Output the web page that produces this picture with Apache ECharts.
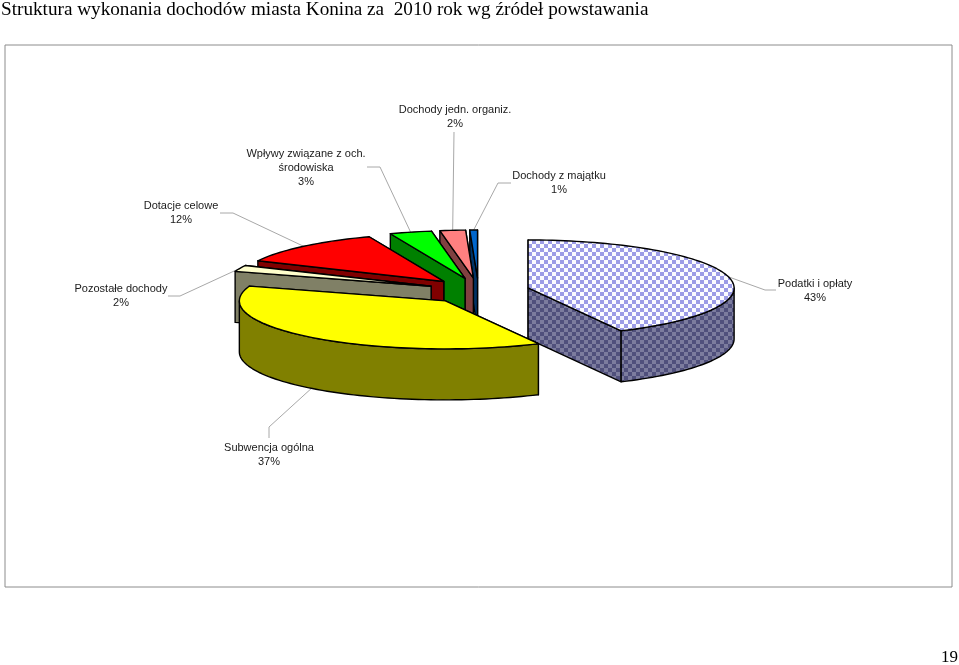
<!DOCTYPE html>
<html>
<head>
<meta charset="utf-8">
<style>html,body{margin:0;padding:0;background:#fff}#c{width:959px;height:665px}</style>
<script src="https://cdn.jsdelivr.net/npm/echarts@6/dist/echarts.min.js"></script>
</head>
<body>
<div id="c"></div>
<script>
// ---- data ----
const titleText = 'Struktura wykonania dochodów miasta Konina za  2010 rok wg źródeł powstawania';
const pageNumber = '19';
const categories = ['Podatki i opłaty', 'Subwencja ogólna', 'Pozostałe dochody', 'Dotacje celowe',
  'Wpływy związane z och.\nśrodowiska', 'Dochody jedn. organiz.', 'Dochody z majątku'];
const values = [42.5, 37.4, 2.1, 12.0, 3.3, 2.0, 0.6];

// ---- look ----
const topColors  = ['#ffffff', '#ffff00', '#ffffcc', '#ff0000', '#00ff00', '#ff8080', '#0066cc'];
const wallColors = ['#4a4a80', '#808000', '#808066', '#800000', '#008000', '#804040', '#003366'];
const drawOrder = [6, 5, 4, 3, 2, 0, 1];
const pie = {cx: 478.5, cy: 291, rx: 206, ry: 48, depth: 51, explodeX: 51, explodeY: 13};
// label centre [x, first-line y], then leader elbow points from label towards the slice
const labelCentre = [[815,284],[269,448],[121,289],[181,206],[306,154],[455,110],[559,176]];
const leaderElbows = [
  [[776,290],[765,290]], [[269,438],[269,427]], [[168,296],[180,296]], [[220,213],[233,213]],
  [[367,167],[380,167]], [[454,132]], [[511,183],[498,183]]
];
const leaderOnWall = [false, true, false, false, false, false, false];

function checker(a, b, size) {
  const cv = document.createElement('canvas');
  cv.width = cv.height = size * 2;
  const g = cv.getContext('2d');
  g.fillStyle = a; g.fillRect(0, 0, size * 2, size * 2);
  g.fillStyle = b; g.fillRect(size, 0, size, size); g.fillRect(0, size, size, size);
  return {type: 'pattern', image: cv, repeat: 'repeat'};
}
const topFill = topColors.slice();
const wallFill = wallColors.slice();
topFill[0] = checker('#fbfbff', '#9c9ce6', 4);
wallFill[0] = checker('#50507c', '#7c7c9e', 4);

const total = values.reduce((s, v) => s + v, 0);
const slices = [];
values.reduce((acc, v) => {
  const a0 = acc / total * 2 * Math.PI, a1 = (acc + v) / total * 2 * Math.PI, mid = (a0 + a1) / 2;
  slices.push({a0, a1, mid,
    ax: pie.cx + pie.explodeX * Math.sin(mid),
    ay: pie.cy - pie.explodeY * Math.cos(mid)});
  return acc + v;
}, 0);
function onRim(s, t) {
  return [s.ax + pie.rx * Math.sin(t), s.ay - pie.ry * Math.cos(t)];
}
function arcPoints(s, from, to) {
  const n = Math.max(2, Math.ceil(Math.abs(to - from) / 0.03)), out = [];
  for (let i = 0; i <= n; i++) out.push(onRim(s, from + (to - from) * i / n));
  return out;
}
const edge = {stroke: '#000', lineWidth: 1.4, lineJoin: 'round'};
function poly(points, fill) {
  return {type: 'polygon', shape: {points}, style: Object.assign({fill}, edge), silent: true};
}
function drop(p) { return [p[0], p[1] + pie.depth]; }

function renderSlice(params, api) {
  const i = drawOrder[params.dataIndex], s = slices[i], kids = [];
  const A = [s.ax, s.ay];
  const walls = [s.a0, s.a1].map(t => ({p: onRim(s, t)}));
  walls.sort((u, v) => u.p[1] - v.p[1]);
  walls.forEach(w => kids.push(poly([A, w.p, drop(w.p), drop(A)], wallFill[i])));
  // front part of the rim (clock angles 90..270 degrees)
  const f0 = Math.max(s.a0, Math.PI / 2), f1 = Math.min(s.a1, 1.5 * Math.PI);
  if (f1 > f0) {
    const rim = arcPoints(s, f0, f1);
    kids.push(poly(rim.concat(rim.map(drop).reverse()), wallFill[i]));
  }
  kids.push(poly([A].concat(arcPoints(s, s.a0, s.a1)), topFill[i]));
  return {type: 'group', children: kids};
}

function renderLabel(params, api) {
  const i = params.dataIndex, s = slices[i];
  let end = onRim(s, s.mid);
  if (leaderOnWall[i]) end = drop(end);
  const pct = Math.round(values[i] / total * 100) + '%';
  return {type: 'group', children: [
    {type: 'polyline', silent: true,
      shape: {points: leaderElbows[i].concat([end])},
      style: {fill: null, stroke: '#a8a8a8', lineWidth: 1}},
    {type: 'text', silent: true,
      style: {x: labelCentre[i][0], y: labelCentre[i][1] - 7, text: categories[i] + '\n' + pct,
        textAlign: 'center', textVerticalAlign: 'top', lineHeight: 14,
        font: '11px "Liberation Sans"', fill: '#1a1a1a'}}
  ]};
}

const chart = echarts.init(document.getElementById('c'), null, {renderer: 'canvas'});
chart.setOption({
  animation: false,
  backgroundColor: '#fff',
  title: {text: titleText, left: 1, top: 0, padding: 0,
    textStyle: {fontFamily: 'Liberation Serif', fontSize: 19.2, fontWeight: 'normal', color: '#000'}},
  graphic: [
    {type: 'rect', z: -1, shape: {x: 5, y: 45, width: 947, height: 542},
      style: {fill: '#fff', stroke: '#8c8c8c', lineWidth: 1}},
    {type: 'text', right: 1, top: 649,
      style: {text: pageNumber, font: '17px "Liberation Serif"', fill: '#000'}}
  ],
  series: [
    {type: 'custom', coordinateSystem: 'none', z: 2, renderItem: renderLabel, data: values},
    {type: 'custom', coordinateSystem: 'none', z: 3, renderItem: renderSlice,
      data: drawOrder.map(i => values[i])}
  ]
});
</script>
</body>
</html>
